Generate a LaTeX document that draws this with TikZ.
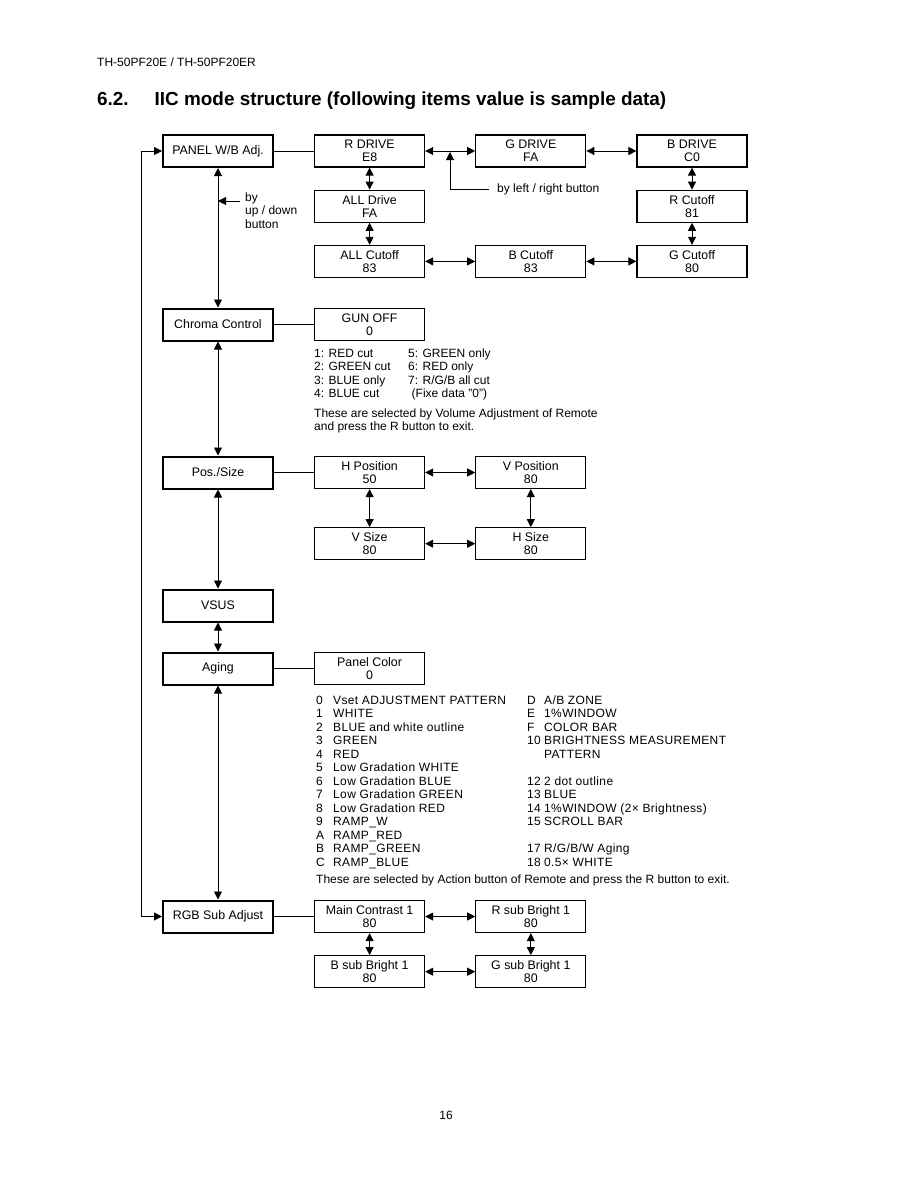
\documentclass[tikz,border=0pt]{standalone}
\usepackage{fontspec}
\setmainfont{Liberation Sans}
\usetikzlibrary{arrows.meta,positioning}

\begin{document}
\begin{tikzpicture}[
		x=1pt, y=-1pt,
		every node/.style={font=\fontsize{12}{13}\selectfont},
		menu/.style={draw, line width=2pt, minimum width=110pt, minimum height=32pt, inner sep=1pt, font=\fontsize{12.4}{13.5}\selectfont},
		item/.style={draw, line width=1.2pt, align=center, minimum width=110pt, minimum height=32pt, inner sep=1pt, font=\fontsize{12.4}{13.2}\selectfont},
		note/.style={inner sep=0pt, anchor=north west, font=\fontsize{12}{13.5}\selectfont},
		link/.style={line width=0.9pt},
		barrow/.style={{Triangle[length=8pt,width=8pt]}-{Triangle[length=8pt,width=8pt]}, line width=0.9pt},
		sarrow/.style={-{Triangle[length=8pt,width=8pt]}, line width=0.9pt}
	]
		\useasboundingbox (0,0) rectangle (918,1188);

		% page head
		\node[anchor=base west, inner sep=0pt] (model) at (97,67) {TH-50PF20E / TH-50PF20ER};
		\node[anchor=base west, inner sep=0pt, font=\fontsize{18.9}{21}\selectfont\bfseries]
			(title) at (97,106)
			{6.2.\hspace{26pt}IIC mode structure (following items value is sample data)};

		% left column
		\node[menu] (panel) at (218,151) {PANEL W/B Adj.};
		\node[menu] (chroma) at (218,324.5) {Chroma Control};
		\node[menu] (pos) at (218,472.5) {Pos./Size};
		\node[menu] (vsus) at (218,605.5) {VSUS};
		\node[menu] (aging) at (218,668.5) {Aging};
		\node[menu] (rgb) at (218,916.5) {RGB Sub Adjust};

		% PANEL W/B Adj.
		\node[item, right=40pt of panel] (rdrive) {R DRIVE\\E8};
		\node[item, right=50pt of rdrive] (gdrive) {G DRIVE\\FA};
		\node[item, right=50pt of gdrive] (bdrive) {B DRIVE\\C0};
		\node[item, below=22pt of rdrive] (alldrive) {ALL Drive\\FA};
		\node[item, below=22pt of bdrive] (rcut) {R Cutoff\\81};
		\node[item, below=22pt of alldrive] (allcut) {ALL Cutoff\\83};
		\node[item, right=50pt of allcut] (bcut) {B Cutoff\\83};
		\node[item, right=50pt of bcut] (gcut) {G Cutoff\\80};

		\draw[link] (panel) -- (rdrive);
		\draw[barrow] (rdrive) -- (gdrive);
		\draw[barrow] (gdrive) -- (bdrive);
		\draw[barrow] (rdrive) -- (alldrive);
		\draw[barrow] (alldrive) -- (allcut);
		\draw[barrow] (allcut) -- (bcut);
		\draw[barrow] (bcut) -- (gcut);
		\draw[barrow] (gcut) -- (rcut);
		\draw[barrow] (rcut) -- (bdrive);

		\node[anchor=west, inner sep=0pt] (lrnote) at (497,189) {by left / right button};
		\coordinate (lrtip) at (450,152);
		\draw[sarrow] ([xshift=-8pt]lrnote.west) -| (lrtip);

		\node[note, inner xsep=5pt] (udnote) at (240,191.5) {\begin{tabular}{@{}l@{}}by\\up / down\\button\end{tabular}};
		\coordinate (udtip) at (218,201);
		\draw[sarrow] (udnote.west |- udtip) -- (udtip);

		% Chroma Control
		\node[item, right=40pt of chroma] (gunoff) {GUN OFF\\0};
		\draw[link] (chroma) -- (gunoff);
		\node[note] (chromalist) at (314,347.5) {\begin{tabular}{@{}p{94pt}@{}l@{}}
			1: RED cut & 5: GREEN only\\
			2: GREEN cut & 6: RED only\\
			3: BLUE only & 7: R/G/B all cut\\
			4: BLUE cut & \hspace{3.5pt}(Fixe data "0")
		\end{tabular}};
		\node[note] (chromanote) at (314,407.5) {\begin{tabular}{@{}l@{}}
			These are selected by Volume Adjustment of Remote\\
			and press the R button to exit.
		\end{tabular}};

		% Pos./Size
		\node[item, right=40pt of pos] (hpos) {H Position\\50};
		\node[item, right=50pt of hpos] (vpos) {V Position\\80};
		\node[item, below=38pt of hpos] (vsize) {V Size\\80};
		\node[item, right=50pt of vsize] (hsize) {H Size\\80};
		\draw[link] (pos) -- (hpos);
		\draw[barrow] (hpos) -- (vpos);
		\draw[barrow] (hpos) -- (vsize);
		\draw[barrow] (vsize) -- (hsize);
		\draw[barrow] (vpos) -- (hsize);

		% Aging
		\node[item, right=40pt of aging] (pcolor) {Panel Color\\0};
		\draw[link] (aging) -- (pcolor);
		\node[note] (aginglist) at (316,694.5) {\addfontfeatures{LetterSpace=3}\begin{tabular}{@{}p{17pt}@{}p{194pt}@{}p{17pt}@{}l@{}}
			0 & Vset ADJUSTMENT PATTERN & D & A/B ZONE\\
			1 & WHITE & E & 1\%WINDOW\\
			2 & BLUE and white outline & F & COLOR BAR\\
			3 & GREEN & 10 & BRIGHTNESS MEASUREMENT\\
			4 & RED & & PATTERN\\
			5 & Low Gradation WHITE & & \\
			6 & Low Gradation BLUE & 12 & 2 dot outline\\
			7 & Low Gradation GREEN & 13 & BLUE\\
			8 & Low Gradation RED & 14 & 1\%WINDOW (2× Brightness)\\
			9 & RAMP\_W & 15 & SCROLL BAR\\
			A & RAMP\_RED & & \\
			B & RAMP\_GREEN & 17 & R/G/B/W Aging\\
			C & RAMP\_BLUE & 18 & 0.5× WHITE
		\end{tabular}};
		\node[note] (agingnote) at (316,874.5) {These are selected by Action button of Remote and press the R button to exit.};

		% RGB Sub Adjust
		\node[item, right=40pt of rgb] (mainc) {Main Contrast 1\\80};
		\node[item, right=50pt of mainc] (rsub) {R sub Bright 1\\80};
		\node[item, below=22pt of mainc] (bsub) {B sub Bright 1\\80};
		\node[item, right=50pt of bsub] (gsub) {G sub Bright 1\\80};
		\draw[link] (rgb) -- (mainc);
		\draw[barrow] (mainc) -- (rsub);
		\draw[barrow] (mainc) -- (bsub);
		\draw[barrow] (bsub) -- (gsub);
		\draw[barrow] (rsub) -- (gsub);

		% up / down between the menus
		\draw[barrow] (panel) -- (chroma);
		\draw[barrow] (chroma) -- (pos);
		\draw[barrow] (pos) -- (vsus);
		\draw[barrow] (vsus) -- (aging);
		\draw[barrow] (aging) -- (rgb);
		\draw[barrow] (panel.west) -- ++(-21,0) |- (rgb.west);

		\node[anchor=base, inner sep=0pt] (pageno) at (446,1119) {16};
	\end{tikzpicture}
\end{document}
